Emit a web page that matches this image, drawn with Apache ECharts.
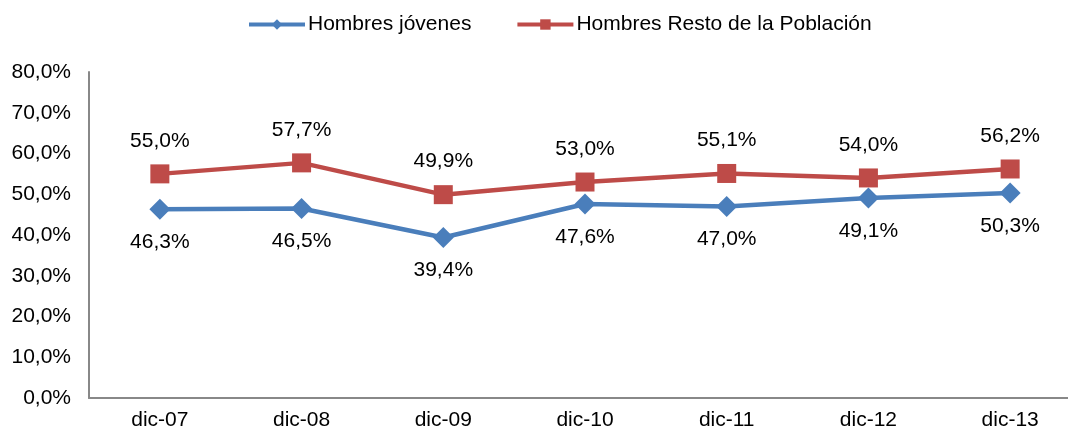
<!DOCTYPE html>
<html>
<head>
<meta charset="utf-8">
<script src="https://cdn.jsdelivr.net/npm/echarts@6/dist/echarts.min.js"></script>
<style>
  html, body { margin: 0; padding: 0; background: #fff; overflow: hidden; }
  /* plot runs past the right edge in the original, so the canvas is a bit wider */
  #chart { width: 1081px; height: 432px; }
</style>
</head>
<body>
<div id="chart"></div>
<script>
const categories = ["dic-07", "dic-08", "dic-09", "dic-10", "dic-11", "dic-12", "dic-13"];
const jovenes = [46.3, 46.5, 39.4, 47.6, 47.0, 49.1, 50.3];
const resto = [55.0, 57.7, 49.9, 53.0, 55.1, 54.0, 56.2];

const pct = (v) => v.toFixed(1).replace(".", ",") + "%";
const font = "Liberation Sans, Arial, sans-serif";

const chart = echarts.init(document.getElementById("chart"));
chart.setOption({
  animation: false,
  textStyle: { fontFamily: font },
  legend: {
    top: 9,
    left: 242,
    itemWidth: 56,
    itemHeight: 13,
    itemGap: 44,
    lineStyle: { width: 4 },
    textStyle: { fontSize: 21, color: "#000", fontFamily: font, padding: [0, 0, 0, -2] },
    data: ["Hombres jóvenes", "Hombres Resto de la Población"],
  },
  grid: {
    left: 89,
    top: 72,
    right: 0,
    height: 326,
  },
  xAxis: {
    type: "category",
    data: categories,
    boundaryGap: true,
    axisLine: { lineStyle: { color: "#888", width: 2 } },
    axisTick: { show: false },
    axisLabel: { fontSize: 21, color: "#000", margin: 12, fontFamily: font },
  },
  yAxis: {
    type: "value",
    min: 0,
    max: 80,
    interval: 10,
    splitLine: { show: false },
    axisLine: { show: true, lineStyle: { color: "#888", width: 2 } },
    axisTick: { show: false },
    axisLabel: { fontSize: 21, color: "#000", margin: 18, fontFamily: font, formatter: pct },
  },
  series: [
    {
      name: "Hombres jóvenes",
      type: "line",
      data: jovenes,
      symbol: "diamond",
      symbolSize: 21,
      lineStyle: { color: "#4a7ebb", width: 4.5 },
      itemStyle: { color: "#4a7ebb" },
      label: {
        show: true,
        position: "bottom",
        distance: 12,
        fontSize: 21,
        color: "#000",
        fontFamily: font,
        formatter: (p) => pct(p.value),
      },
    },
    {
      name: "Hombres Resto de la Población",
      type: "line",
      data: resto,
      symbol: "rect",
      symbolSize: 19,
      lineStyle: { color: "#be4b48", width: 4.5 },
      itemStyle: { color: "#be4b48" },
      label: {
        show: true,
        position: "top",
        distance: 13,
        fontSize: 21,
        color: "#000",
        fontFamily: font,
        formatter: (p) => pct(p.value),
      },
    },
  ],
});
</script>
</body>
</html>
